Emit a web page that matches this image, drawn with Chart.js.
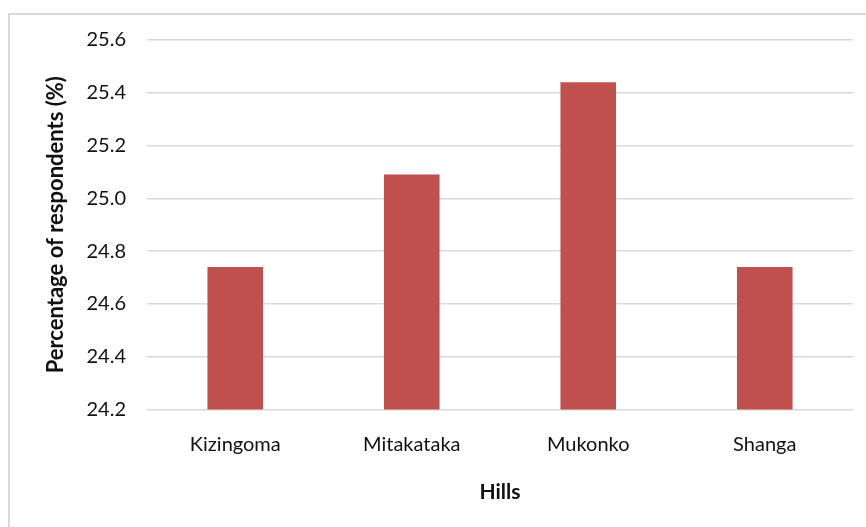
<!DOCTYPE html>
<html>
<head>
<meta charset="utf-8">
<title>Respondents by hill</title>
<script src="https://cdn.jsdelivr.net/npm/chart.js@4"></script>
<style>
  html, body { margin: 0; padding: 0; background: #fff; overflow: hidden; }
  #wrap { position: relative; width: 866px; height: 527px; }
  /* light frame around the chart, runs off the right/bottom edge */
  #frame {
    position: absolute; left: 8px; top: 13px;
    width: 900px; height: 560px;
    border: 2px solid #d9d9d9;
    box-sizing: border-box;
  }
  #hillsChart { position: absolute; left: 0; top: 0; }
</style>
</head>
<body>
<div id="wrap">
  <div id="frame"></div>
  <canvas id="hillsChart" width="866" height="527"></canvas>
</div>
<script>
// Data
const hills = ['Kizingoma', 'Mitakataka', 'Mukonko', 'Shanga'];
const respondentsPct = [24.74, 25.09, 25.44, 24.74];

// Axis range
const yMin = 24.2;
const yMax = 25.6;
const yStep = 0.2;

const FONT = 'Lato, "Open Sans", sans-serif';
const TEXT_COLOR = '#111';
const GRID_COLOR = '#d9d9d9';

let hillsChart = null;

function drawHillsChart() {
  const ctx = document.getElementById('hillsChart').getContext('2d');

  const chartData = {
    labels: hills,
    datasets: [{
      label: 'Percentage of respondents (%)',
      data: respondentsPct,
      backgroundColor: '#c0504d',
      borderWidth: 0,
      categoryPercentage: 1,
      barPercentage: 0.315
    }]
  };

  const options = {
    responsive: false,
    animation: false,
    layout: {
      padding: { top: 40, right: 13, bottom: 0, left: 0 }
    },
    plugins: {
      legend: { display: false },
      tooltip: { enabled: false }
    },
    scales: {
      x: {
        grid: { display: false, drawTicks: false },
        border: { display: false },
        ticks: {
          color: TEXT_COLOR,
          padding: 23,
          font: { family: FONT, size: 20 }
        },
        title: {
          display: true,
          text: 'Hills',
          color: TEXT_COLOR,
          padding: { top: 0, bottom: 22 },
          font: { family: FONT, size: 21, weight: 'bold' }
        },
        afterFit: (axis) => { axis.height = 117.5; }
      },
      y: {
        min: yMin,
        max: yMax,
        grid: { color: GRID_COLOR, lineWidth: 1.5, drawTicks: false },
        border: { display: false },
        ticks: {
          stepSize: yStep,
          color: TEXT_COLOR,
          padding: 21,
          font: { family: FONT, size: 20 },
          callback: (value) => Number(value).toFixed(1)
        },
        title: {
          display: true,
          text: 'Percentage of respondents (%)',
          color: TEXT_COLOR,
          padding: { top: 43, bottom: 0 },
          font: { family: FONT, size: 22, weight: 'bold' }
        },
        afterFit: (axis) => { axis.width = 147; }
      }
    }
  };

  hillsChart = new Chart(ctx, {
    type: 'bar',
    data: chartData,
    options: options
  });
}

drawHillsChart();
</script>
</body>
</html>
